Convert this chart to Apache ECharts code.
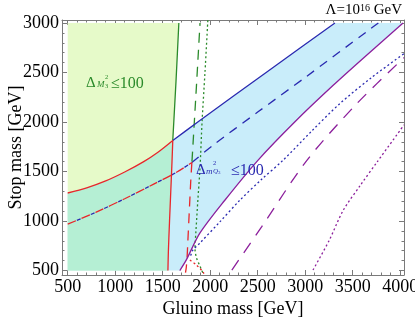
<!DOCTYPE html>
<html><head><meta charset="utf-8">
<script src="https://cdn.jsdelivr.net/npm/echarts@6/dist/echarts.min.js"></script>
<style>html,body{margin:0;padding:0;background:#fff}#c{width:415px;height:322px}</style>
</head><body><div id="c"></div>
<script>
// ---- axis ticks ----
const xTicks = [500,1000,1500,2000,2500,3000,3500,4000];
const yTicks = [500,1000,1500,2000,2500,3000];
const xMinorTicks = [600,700,800,900,1100,1200,1300,1400,1600,1700,1800,1900,2100,2200,2300,2400,2600,2700,2800,2900,3100,3200,3300,3400,3600,3700,3800,3900];
const yMinorTicks = [600,700,800,900,1100,1200,1300,1400,1600,1700,1800,1900,2100,2200,2300,2400,2600,2700,2800,2900];
const xRange = [440, 4040];
const yRange = [455, 3030];
const box = {x0:500, y0:500, y1:3000};

// ---- contour curves [gluino, stop] ----
const redSolidTop  = [[500,1283],[700,1335],[900,1405],[1100,1495],[1300,1600],[1450,1695],[1606,1814]];
const redSolidVert = [[1606,1814],[1598,1600],[1585,1300],[1572,1000],[1560,700],[1555,500]];
const greenSolid   = [[1606,1814],[1640,2410],[1670,3000]];
const blueSolid    = [[1606,1814],[1891,2015],[2600,2508],[3313,3000]];
const purpleSolid  = [[1680,500],[1750,610],[1891,877],[2154,1210],[2502,1613],[2900,2010],[3292,2368],[3700,2720],[4030,3000]];

const redDashCurve  = [[500,968],[800,1090],[1100,1225],[1400,1370],[1650,1495],[1807,1591]];
const redDashVert   = [[1807,1591],[1795,1400],[1780,1100],[1765,800],[1756,620],[1748,530],[1740,480]];
const blueDashLeft  = [[500,968],[800,1090],[1100,1225],[1400,1370],[1650,1495],[1807,1591]];
const blueDashRight = [[1807,1591],[2028,1764],[2500,2100],[3000,2450],[3661,2922],[3770,3000]];
const greenDash     = [[1808,1600],[1817,1743],[1855,2360],[1893,3000]];
const purpleDash    = [[2228,505],[2541,941],[3018,1613],[3545,2187],[4040,2650]];

const redDot    = [[1786,606],[1850,560],[1912,500],[1935,468]];
const greenDot  = [[1975,3027],[1945,2500],[1915,2015],[1893,1542],[1870,1210],[1850,900],[1840,720],[1855,630],[1885,560],[1912,500],[1925,470]];
const blueDot   = [[1795,650],[1817,706],[1891,777],[2100,990],[2312,1210],[2540,1420],[2766,1613],[3060,1900],[3366,2187],[3700,2450],[4040,2690]];
const purpleDot = [[3082,505],[3250,800],[3401,1109],[3580,1360],[3760,1600],[4040,1970]];

// ---- filled regions built from the curves ----
const greenFill = [[box.x0,box.y0],[box.x0,box.y1]].concat(greenSolid.slice().reverse(), redSolidVert.slice(1));
const blueFill  = [[box.x0,box.y0]].concat(redSolidTop, blueSolid.slice(1), purpleSolid.slice().reverse());
const mintFill  = [[box.x0,box.y0]].concat(redSolidTop, redSolidVert.slice(1));

const SERIF = '"Liberation Serif","DejaVu Serif",serif';
const FRAME = '#7a7a7a';
const C = {red:'#e8262b', blue:'#2a2ab0', purple:'#8c1f9c', green:'#2a8a2a'};

function poly(pts, fill, z){
  return {type:'custom', coordinateSystem:'cartesian2d', xAxisIndex:0, yAxisIndex:0, z:z, silent:true, clip:true,
    data:[0],
    renderItem:function(params, api){
      return {type:'polygon', shape:{points: pts.map(p=>api.coord(p))}, style:{fill:fill, stroke:null}};
    }};
}
function line(pts, color, type, z, smooth, offset){
  return {type:'line', xAxisIndex:0, yAxisIndex:0, data:pts, showSymbol:false, symbol:'none', smooth:smooth, z:z, silent:true,
    clip:true, lineStyle:{color:color, width:1.3, type:type, dashOffset:offset||0}};
}
const fmt = v => String(v);
function xAx(pos, ticks, len, main){
  return {type:'value', min:xRange[0], max:xRange[1], position:pos,
    axisLine:{show:main, onZero:false, lineStyle:{color:FRAME, width:1}},
    axisTick:{show:true, inside:true, length:len, customValues:ticks, lineStyle:{color:FRAME}},
    axisLabel:{show:main && pos==='bottom', customValues:ticks, formatter:fmt, margin:3, fontFamily:SERIF, fontSize:18, color:'#000'},
    splitLine:{show:false},
    name: (main && pos==='bottom') ? 'Gluino mass [GeV]' : '',
    nameMoveOverlap:false,
    nameLocation:'middle', nameGap:25, nameTextStyle:{fontFamily:SERIF, fontSize:18, color:'#000'}};
}
function yAx(pos, ticks, len, main){
  return {type:'value', min:yRange[0], max:yRange[1], position:pos,
    axisLine:{show:main, onZero:false, lineStyle:{color:FRAME, width:1}},
    axisTick:{show:true, inside:true, length:len, customValues:ticks, lineStyle:{color:FRAME}},
    axisLabel:{show:main && pos==='left', customValues:ticks, formatter:fmt, margin:3, fontFamily:SERIF, fontSize:18, color:'#000'},
    splitLine:{show:false},
    name: (main && pos==='left') ? 'Stop mass [GeV]' : '',
    nameMoveOverlap:false,
    nameLocation:'middle', nameGap:37, nameTextStyle:{fontFamily:SERIF, fontSize:18, color:'#000'}};
}

const chart = echarts.init(document.getElementById('c'), null, {renderer:'canvas'});
chart.setOption({
  animation:false,
  backgroundColor:'#fff',
  grid:{left:62, right:11, top:20, bottom:47, containLabel:false, outerBoundsMode:'none'},
  xAxis:[xAx('bottom',xTicks,5,true), xAx('bottom',xMinorTicks,2.5,false), xAx('top',xTicks,5,true), xAx('top',xMinorTicks,2.5,false)],
  yAxis:[yAx('left',yTicks,5,true), yAx('left',yMinorTicks,2.5,false), yAx('right',yTicks,5,true), yAx('right',yMinorTicks,2.5,false)],
  series:[
    poly(greenFill,'#e6fac9',1),
    poly(blueFill,'#c9edfa',2),
    poly(mintFill,'#b5efd4',3),
    line(blueDashLeft, C.blue, [4,11], 12, 0.3, 5),
    line(blueDashRight, C.blue, [9,7], 10, 0.3, 0),
    line(redDashCurve, C.red, [9,6], 11, 0.3, 0),
    line(redDashVert, C.red, [10,7], 11, 0.2, 0),
    line(greenDash, C.green, [10,7], 10, 0, 0),
    line(purpleDash, C.purple, [12,9], 10, 0.3, 0),
    line(greenDot, C.green, [2,2.5], 12, 0.3, 0),
    line(blueDot, C.blue, [2,2.5], 12, 0.3, 0),
    line(redDot, C.red, [2,2.5], 13, 0.3, 0),
    line(purpleDot, C.purple, [2,2.5], 12, 0.3, 0),
    line(greenSolid, C.green, 'solid', 14, 0.2, 0),
    line(blueSolid, C.blue, 'solid', 14, 0.1, 0),
    line(purpleSolid, C.purple, 'solid', 14, 0.3, 0),
    line(redSolidTop, C.red, 'solid', 15, 0.3, 0),
    line(redSolidVert, C.red, 'solid', 15, 0.3, 0)
  ],
  graphic:[
    {type:'text', x:402, y:18, z:50, style:{text:'{a|Λ=10}{s|16}{a| GeV}', align:'right', verticalAlign:'bottom',
      rich:{a:{fontFamily:SERIF, fontSize:15, fill:'#000', verticalAlign:'bottom'}, s:{fontFamily:SERIF, fontSize:10, fill:'#000', verticalAlign:'top'}}}},
    // green label
    {type:'text', x:86, y:76, z:50, style:{text:'Δ', fontFamily:SERIF, fontSize:15, fill:C.green, verticalAlign:'alphabetic'}},
    {type:'text', x:97, y:80, z:50, style:{text:'M', fontFamily:SERIF, fontStyle:'italic', fontSize:9, fill:C.green, verticalAlign:'alphabetic'}},
    {type:'text', x:105, y:74, z:50, style:{text:'2', fontFamily:SERIF, fontSize:6.5, fill:C.green, verticalAlign:'alphabetic'}},
    {type:'text', x:105, y:83, z:50, style:{text:'3', fontFamily:SERIF, fontSize:6.5, fill:C.green, verticalAlign:'alphabetic'}},
    {type:'text', x:111, y:76, z:50, style:{text:'≤100', fontFamily:SERIF, fontSize:16, fill:C.green, verticalAlign:'alphabetic'}},
    // blue label
    {type:'text', x:196, y:163, z:50, style:{text:'Δ', fontFamily:SERIF, fontSize:15, fill:C.blue, verticalAlign:'alphabetic'}},
    {type:'text', x:206, y:167, z:50, style:{text:'m', fontFamily:SERIF, fontStyle:'italic', fontSize:9, fill:C.blue, verticalAlign:'alphabetic'}},
    {type:'text', x:213, y:160, z:50, style:{text:'2', fontFamily:SERIF, fontSize:6.5, fill:C.blue, verticalAlign:'alphabetic'}},
    {type:'text', x:213, y:168, z:50, style:{text:'Q', fontFamily:SERIF, fontStyle:'italic', fontSize:7, fill:C.blue, verticalAlign:'alphabetic'}},
    {type:'text', x:218, y:170, z:50, style:{text:'3', fontFamily:SERIF, fontSize:5, fill:C.blue, verticalAlign:'alphabetic'}},
    {type:'text', x:231, y:163, z:50, style:{text:'≤100', fontFamily:SERIF, fontSize:16, fill:C.blue, verticalAlign:'alphabetic'}}
  ]
});
</script></body></html>
